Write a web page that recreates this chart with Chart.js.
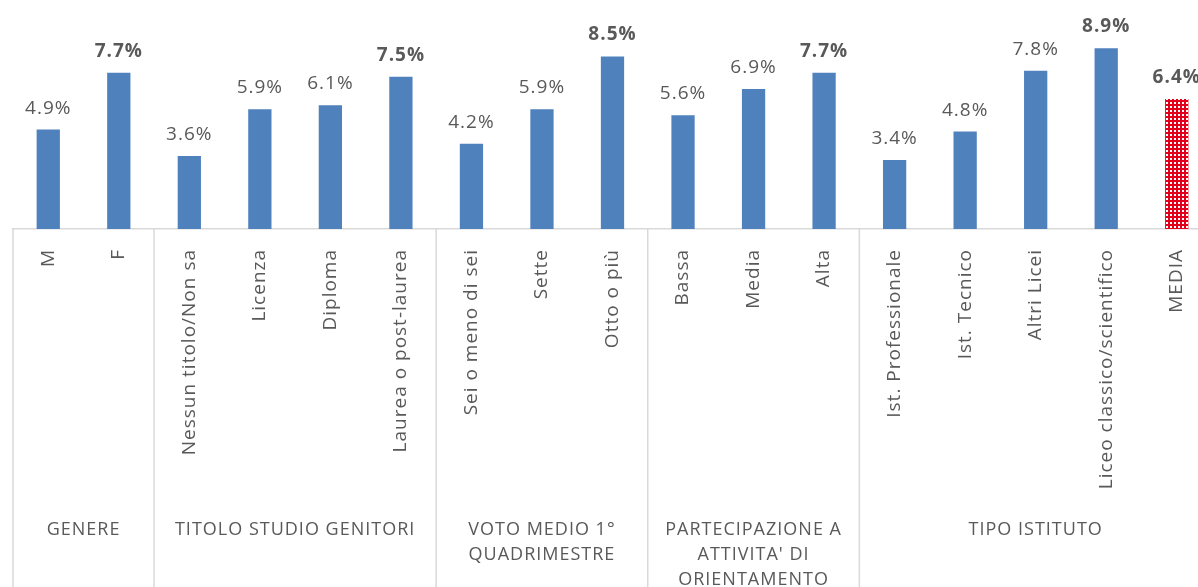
<!DOCTYPE html>
<html>
<head>
<meta charset="utf-8">
<script src="https://cdn.jsdelivr.net/npm/chart.js@4/dist/chart.umd.min.js"></script>
<style>
  html, body { margin: 0; padding: 0; background: #fff; overflow: hidden; }
  #wrap { position: absolute; left: 0; top: 0; width: 1212px; height: 587px; }
</style>
</head>
<body>
<div id="wrap"><canvas id="barChart"></canvas></div>
<script>
// Categories and values
const categories = [
  "M", "F",
  "Nessun titolo/Non sa", "Licenza", "Diploma", "Laurea o post-laurea",
  "Sei o meno di sei", "Sette", "Otto o più",
  "Bassa", "Media", "Alta",
  "Ist. Professionale", "Ist. Tecnico", "Altri Licei", "Liceo classico/scientifico",
  "MEDIA"
];
const values = [4.9, 7.7, 3.6, 5.9, 6.1, 7.5, 4.2, 5.9, 8.5, 5.6, 6.9, 7.7, 3.4, 4.8, 7.8, 8.9, 6.4];
// bold labels = highest in each group + overall average
const boldLabels = [false, true, false, false, false, true, false, false, true, false, false, true, false, false, false, true, true];

// Group headers under the category labels
const groupNames = [
  ["GENERE"],
  ["TITOLO STUDIO GENITORI"],
  ["VOTO MEDIO 1°", "QUADRIMESTRE"],
  ["PARTECIPAZIONE A", "ATTIVITA' DI", "ORIENTAMENTO"],
  ["TIPO ISTITUTO"]
];
const groupSizes = [2, 4, 3, 3, 5];

const TEXT_COLOR = "#595959";
const FONT = "'Open Sans', sans-serif";

/******************************* dotted red pattern for the MEDIA bar *******************************/
function makePattern() {
  const c = document.createElement("canvas");
  c.width = 4;
  c.height = 4;
  const g = c.getContext("2d");
  g.fillStyle = "#E2001A";
  g.fillRect(0, 0, 4, 4);
  g.fillStyle = "#ffffff";
  g.fillRect(2, 2, 2, 2);
  return g.createPattern(c, "repeat");
}

const barColors = categories.map((c) => (c === "MEDIA" ? makePattern() : "#4F81BD"));

/******************************* wider text, closer to the original font *******************************/
const spacing = {
  id: "spacing",
  beforeDraw(chart) {
    chart.ctx.letterSpacing = "1px";
  },
};

/******************************* value labels above the bars *******************************/
const valueLabels = {
  id: "valueLabels",
  afterDatasetsDraw(chart) {
    const ctx = chart.ctx;
    const meta = chart.getDatasetMeta(0);
    ctx.save();
    ctx.fillStyle = TEXT_COLOR;
    ctx.textAlign = "center";
    ctx.textBaseline = "alphabetic";
    meta.data.forEach((bar, i) => {
      ctx.font = (boldLabels[i] ? "bold " : "") + "19px " + FONT;
      ctx.fillText(values[i].toFixed(1) + "%", bar.x, bar.y - 16);
    });
    ctx.restore();
  },
};

/******************************* group separators and group names *******************************/
const groupAxis = {
  id: "groupAxis",
  afterDraw(chart) {
    const ctx = chart.ctx;
    const x = chart.scales.x;
    const step = x.getPixelForValue(1) - x.getPixelForValue(0);
    const top = chart.chartArea.bottom;
    const bottom = chart.height;
    ctx.save();
    ctx.strokeStyle = "#d9d9d9";
    ctx.lineWidth = 1.5;
    let start = 0;
    groupSizes.forEach((size, gi) => {
      const left = x.getPixelForValue(start) - step / 2;
      const right = x.getPixelForValue(start + size - 1) + step / 2;
      // separator at the left edge of every group
      ctx.beginPath();
      ctx.moveTo(left, top);
      ctx.lineTo(left, bottom);
      ctx.stroke();

      ctx.fillStyle = TEXT_COLOR;
      ctx.font = "18px " + FONT;
      ctx.textAlign = "center";
      ctx.textBaseline = "middle";
      groupNames[gi].forEach((line, li) => {
        ctx.fillText(line, (left + right) / 2, 530 + li * 25);
      });
      start += size;
    });
    ctx.restore();
  },
};

/******************************* build the chart *******************************/
new Chart(document.getElementById("barChart"), {
  type: "bar",
  data: {
    labels: categories,
    datasets: [
      {
        data: values,
        backgroundColor: barColors,
        categoryPercentage: 1,
        barPercentage: 0.33,
      },
    ],
  },
  options: {
    responsive: true,
    maintainAspectRatio: false,
    animation: false,
    layout: { padding: { top: 26, left: 13, right: 0, bottom: 0 } },
    plugins: {
      legend: { display: false },
      tooltip: { enabled: false },
    },
    scales: {
      y: { display: false, min: 0, max: 10 },
      x: {
        grid: { display: false },
        border: { display: true, color: "#d9d9d9", width: 1.5 },
        ticks: {
          color: TEXT_COLOR,
          font: { family: FONT, size: 19 },
          minRotation: 90,
          maxRotation: 90,
          autoSkip: false,
          padding: 12,
        },
        afterFit(scale) {
          scale.height = 587 - 229;
        },
      },
    },
  },
  plugins: [spacing, valueLabels, groupAxis],
});
</script>
</body>
</html>
